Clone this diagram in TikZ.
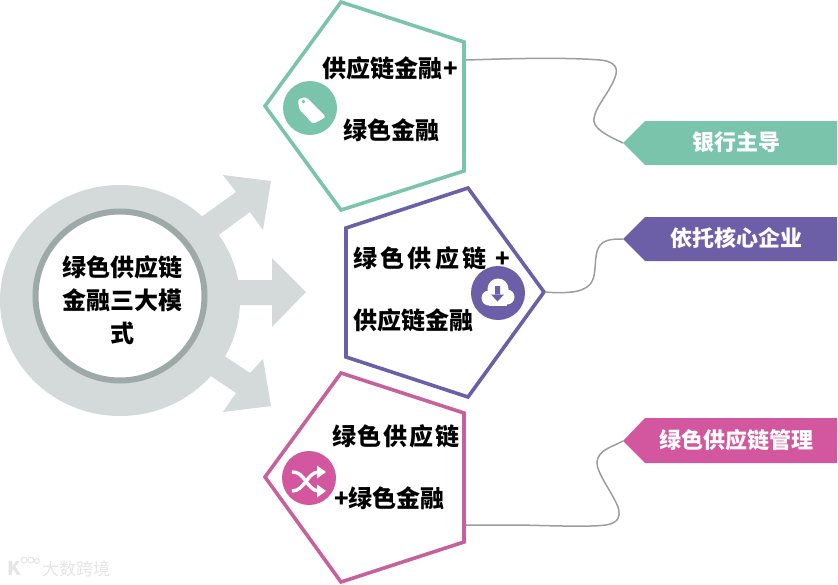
\documentclass[tikz,border=0pt]{standalone}
\usepackage{fontspec}
\usetikzlibrary{shapes.geometric}
\setmainfont{Noto Sans CJK SC}
\newfontfamily\spacedcjk[LetterSpace=14]{Noto Sans CJK SC}
\newfontfamily\spacedcjkb[LetterSpace=7.5]{Noto Sans CJK SC}
\definecolor{mgreen}{HTML}{7BC4AC}
\definecolor{mpurple}{HTML}{6C5FA7}
\definecolor{mpink}{HTML}{D2579F}
\definecolor{mpinkb}{HTML}{C6619E}
\definecolor{mring}{HTML}{D3DAD9}
\definecolor{minner}{HTML}{9DA9A7}
\definecolor{mline}{HTML}{9A9E9D}
\tikzset{
  pent/.style={line width=3.6pt,line join=miter,fill=white},
  wire/.style={draw=mline,line width=1.5pt},
  body/.style={font=\fontsize{24}{24}\selectfont\bfseries,text=black,inner sep=0pt},
  tagtext/.style={font=\fontsize{22}{22}\selectfont\bfseries,text=white,inner sep=0pt},
  badge/.style={circle,minimum size=54pt,inner sep=0pt},
  ringarrow/.style={fill=mring,draw=none},
}
\begin{document}
\begin{tikzpicture}[x=1pt,y=-1pt]
\useasboundingbox (0,0) rectangle (838,584);
% grey arrows
\fill[ringarrow] (190,225) -- (236,192) -- (223,175) -- (271,181) -- (263,230) -- (250,212) -- (205,245) -- cycle;
\fill[ringarrow] (225,280) -- (272,280) -- (272,258) -- (306,292) -- (272,327) -- (272,305) -- (225,305) -- cycle;
\fill[ringarrow] (190,362) -- (236,393) -- (223,412) -- (271,406) -- (263,359) -- (250,373) -- (205,343) -- cycle;
% ring
\node[ellipse,fill=mring,minimum width=240pt,minimum height=231pt,inner sep=0pt] (ring) at (120,300.5) {};
\node[circle,fill=white,draw=minner,line width=6pt,minimum size=169pt,inner sep=0pt] (core) at (120,296) {};
\node[body] (c1) at (122,267) {绿色供应链};
\node[body] (c2) at (122,300) {金融三大模};
\node[body] (c3) at (122,333) {式};
% pentagons
\draw[pent,draw=mgreen] (341,2) -- (464,42) -- (464,171) -- (341,210) -- (265,106) -- cycle;
\draw[pent,draw=mpinkb] (341,373) -- (464,413) -- (464,542) -- (341,582) -- (265,477) -- cycle;
\draw[pent,draw=mpurple] (468,188) -- (346,228) -- (346,357) -- (468,397) -- (544,292) -- cycle;
% tags
\fill[mgreen] (623,143) -- (645,121) -- (837,121) -- (837,165) -- (645,165) -- cycle;
\fill[mpurple] (623,239) -- (645,217) -- (837,217) -- (837,261) -- (645,261) -- cycle;
\fill[mpink] (623,441) -- (645,418) -- (837,418) -- (837,463) -- (645,463) -- cycle;
\coordinate (g0) at (466,60);
\coordinate (g1) at (623,143);
\coordinate (p0) at (545,292);
\coordinate (p1) at (623,239);
\coordinate (k0) at (466,525);
\coordinate (k1) at (623,441);
% connectors
\draw[wire] (g0) -- (500,59) .. controls (540,58) and (575,58) .. (600,60)
  .. controls (612,61) and (618,66) .. (616,74)
  .. controls (612,90) and (596,105) .. (594,118)
  .. controls (592,128) and (606,135) .. (g1);
\draw[wire] (p0) .. controls (555,293) and (570,293) .. (578,291)
  .. controls (592,287) and (594,280) .. (595,268)
  .. controls (596,255) and (596,245) .. (606,241)
  .. controls (611,239) and (617,239) .. (p1);
\draw[wire] (k0) -- (520,525) .. controls (560,526) and (590,527) .. (606,525)
  .. controls (618,523) and (621,517) .. (618,507)
  .. controls (612,492) and (596,472) .. (597,462)
  .. controls (598,450) and (612,447) .. (k1);
% pentagon text
\node[body,anchor=west] (t1) at (322.5,68) {供应链金融\kern1pt+};
\node[body,anchor=west] (t2) at (343,130) {绿色金融};
\node[body,anchor=west] (t3) at (353,258) {\spacedcjk 绿色供应链 +};
\node[body,anchor=west] (t4) at (353,320) {供应链金融};
\node[body,anchor=west] (t5) at (332,436) {\spacedcjkb 绿色供应链};
\node[body,anchor=west] (t6) at (334,498) {+绿色金融};
% tag text
\node[tagtext] (l1) at (736,142) {银行主导};
\node[tagtext] (l2) at (736.5,238) {依托核心企业};
\node[tagtext] (l3) at (736,440) {绿色供应链管理};
% badges
\node[badge,fill=mgreen] (b1) at (310,108) {};
\fill[white,rounded corners=2.5pt] (298,99) -- (306,97) -- (326,117) -- (313,124) -- (299,109) -- cycle;
\fill[mgreen] (303.5,101.5) circle (1.8pt);
\node[badge,fill=mpurple] (b2) at (498,293) {};
\fill[white] (489,298) circle (7.5pt) (498,289) circle (10.5pt) (507,297) circle (7.5pt);
\fill[white] (489,295) rectangle (507,305.5);
\fill[mpurple] (495,286) rectangle (500,295) (491,294.5) -- (504,294.5) -- (497.5,301.5) -- cycle;
\node[badge,fill=mpink] (b3) at (309,478) {};
\draw[white,line width=3.4pt] (292,472) .. controls (305,471) and (307,491) .. (319,491);
\draw[white,line width=3.4pt] (292,491) .. controls (305,491) and (307,472) .. (319,472);
\fill[white] (317,465.5) -- (326,472) -- (317,478.5) -- cycle;
\fill[white] (317,484.5) -- (326,491) -- (317,497.5) -- cycle;
% watermark
\node[inner sep=0pt,text=black!10,font=\fontsize{17}{17}\selectfont] (wm) at (76,569) {大数跨境};
\node[inner sep=0pt,text=black!10,font=\fontsize{19}{19}\selectfont\bfseries] (wk) at (14,568) {K};
\draw[black!10,line width=1pt] (24,560) circle (3pt) (31,560) circle (3pt) (37,561) circle (2.5pt);
\end{tikzpicture}
\end{document}
